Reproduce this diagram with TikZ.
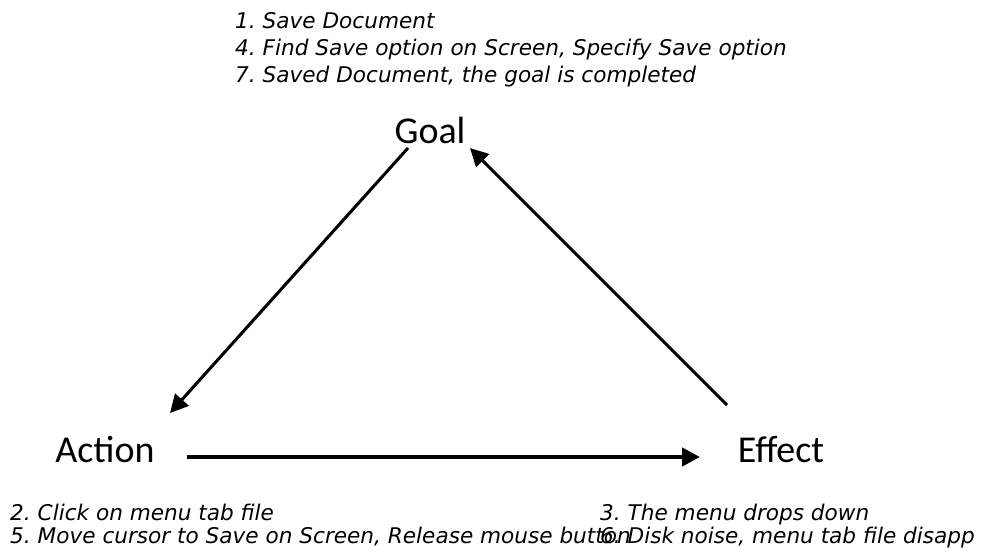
\documentclass[tikz,border=0pt]{standalone}
\usepackage{fontspec}
\newfontfamily\notefont{DejaVu Sans Oblique}
\newfontfamily\cornerfont{Carlito}
\usetikzlibrary{arrows.meta, positioning, calc}
\frenchspacing

\begin{document}
\begin{tikzpicture}[
		corner/.style={
			inner sep=0pt,
			font=\cornerfont\fontsize{32.4pt}{36pt}\selectfont
		},
		note/.style={
			inner sep=0pt,
			align=left,
			font=\notefont\fontsize{18.44pt}{23pt}\selectfont
		},
		notelow/.style={
			note,
			font=\notefont\fontsize{18.44pt}{19.6pt}\selectfont
		},
		fl/.style={
			line width=2.6pt,
			-{Triangle[length=0.54cm, width=0.54cm]}
		},
		flh/.style={
			fl,
			line width=3.6pt
		}
		]
		
		\useasboundingbox (0,0) rectangle (29.46,-16.53);
		
		% Vertices
		\node[corner, anchor=base] (goal) at (12.9,-4.29) {Goal};
		\node[corner, anchor=base] (action) at (3.15,-13.86) {Action};
		\node[corner, anchor=base] (effect) at (23.43,-13.86) {Effect};
		
		% Steps (base = last line)
		\node[note, anchor=base west] (ngoal) at (7.05,-2.46)
		{1. Save Document\\
			4. Find Save option on Screen, Specify Save option\\
			7. Saved Document, the goal is completed};
		
		\node[notelow, anchor=base west] (naction) at (0.3,-16.29)
		{2. Click on menu tab file\\
			5. Move cursor to Save on Screen, Release mouse button};
		
		\node[notelow, anchor=base west] (neffect) at (18.0,-16.29)
		{3. The menu drops down\\
			6. Disk noise, menu tab file disapp};
		
		% Cycle
		\draw[fl] ($(goal.base)+(-0.66,-0.15)$) -- ($(action.base)+(1.95,1.47)$);
		\draw[flh] ($(action.base)+(2.46,0.15)$) -- ($(effect.base)+(-2.43,0.15)$);
		\draw[fl] ($(effect.base)+(-1.62,1.71)$) -- ($(goal.base)+(1.2,-0.15)$);
		
	\end{tikzpicture}
\end{document}
